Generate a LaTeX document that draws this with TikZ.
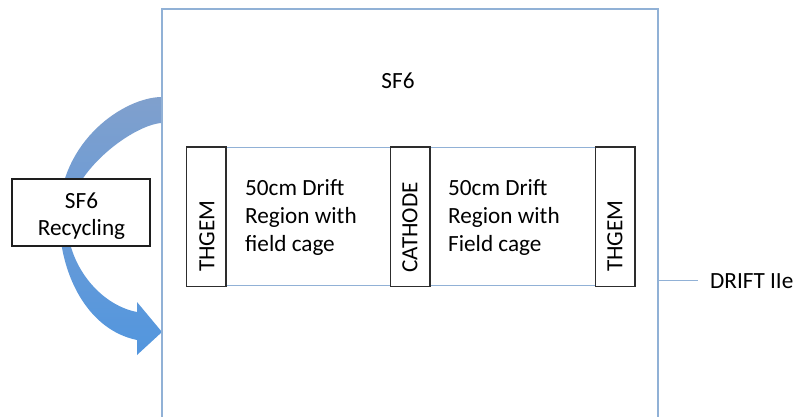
\documentclass[tikz,border=0pt]{standalone}
\usepackage{fontspec}
\setmainfont{Carlito}
\begin{document}
\begin{tikzpicture}[x=1pt,y=-1pt,
  lab/.style={inner sep=0pt,font=\fontsize{23.2}{28}\selectfont},
  vlab/.style={lab,rotate=90,anchor=west},
  blockbox/.style={draw={rgb,255:red,45;green,45;blue,45},line width=1.5pt,fill=white,minimum width=38pt,minimum height=138pt,inner sep=0pt},
  driftbox/.style={draw=tankblue,line width=1pt,fill=white,minimum width=167pt,minimum height=138pt,inner sep=0pt},
  tankline/.style={draw=tankblue,line width=2pt},
  recbox/.style={draw={rgb,255:red,30;green,30;blue,30},line width=1.3pt,fill=white,minimum width=138pt,minimum height=67pt,inner sep=0pt}
]
\definecolor{tankblue}{RGB}{145,177,214}
\useasboundingbox (0,0) rectangle (794,417);
\clip (0,0) rectangle (794,417);

% recycling arrow
\shade[top color={rgb,255:red,128;green,160;blue,205},bottom color={rgb,255:red,82;green,150;blue,222},middle color={rgb,255:red,105;green,155;blue,215}]
  (162,97) .. controls (125,97) and (60,140) .. (59,215)
  .. controls (59,275) and (88,330) .. (137,340)
  -- (137,355) -- (162,332) -- (137,302) -- (137,312)
  .. controls (100,305) and (67,265) .. (67,220)
  .. controls (70,170) and (135,124) .. (162,123)
  -- cycle;

% tank
\node[tankline,minimum width=496pt,minimum height=441pt,inner sep=0pt] (tank) at (410,229.5) {};

% recycling box
\node[recbox] (recyc) at (81,212.5) {};
\node[lab,anchor=base] (recyc1) at (81.5,208) {SF6};
\node[lab,anchor=base] (recyc2) at (81.5,235) {Recycling};

% top label
\node[lab,anchor=base] (sf6) at (398,89) {SF6};

% detector boxes
\node[blockbox] (t1) at (206,216.5) {};
\node[driftbox] (d1) at (307.5,216.5) {};
\node[blockbox] (cat) at (410,216.5) {};
\node[driftbox] (d2) at (512.5,216.5) {};
\node[blockbox] (t2) at (615,216.5) {};
\draw[blockbox] (t1.north west) rectangle (t1.south east);
\draw[blockbox] (cat.north west) rectangle (cat.south east);
\draw[blockbox] (t2.north west) rectangle (t2.south east);

\node[vlab] (t1l) at (207,272) {THGEM};
\node[vlab] (catl) at (410,273) {CATHODE};
\node[vlab] (t2l) at (615,272) {THGEM};

\node[lab,align=left,anchor=north west] (d1l) at (245,179.5) {50cm Drift\\Region with\\field cage};
\node[lab,align=left,anchor=north west] (d2l) at (448,179.5) {50cm Drift\\Region with\\Field cage};

% DRIFT IIe
\node[lab,anchor=base west] (drift) at (710,288) {DRIFT IIe};
\draw[tankblue,line width=1.5pt] (drift.west -| tank.east) -- ([xshift=-12pt]drift.west);
\end{tikzpicture}
\end{document}
